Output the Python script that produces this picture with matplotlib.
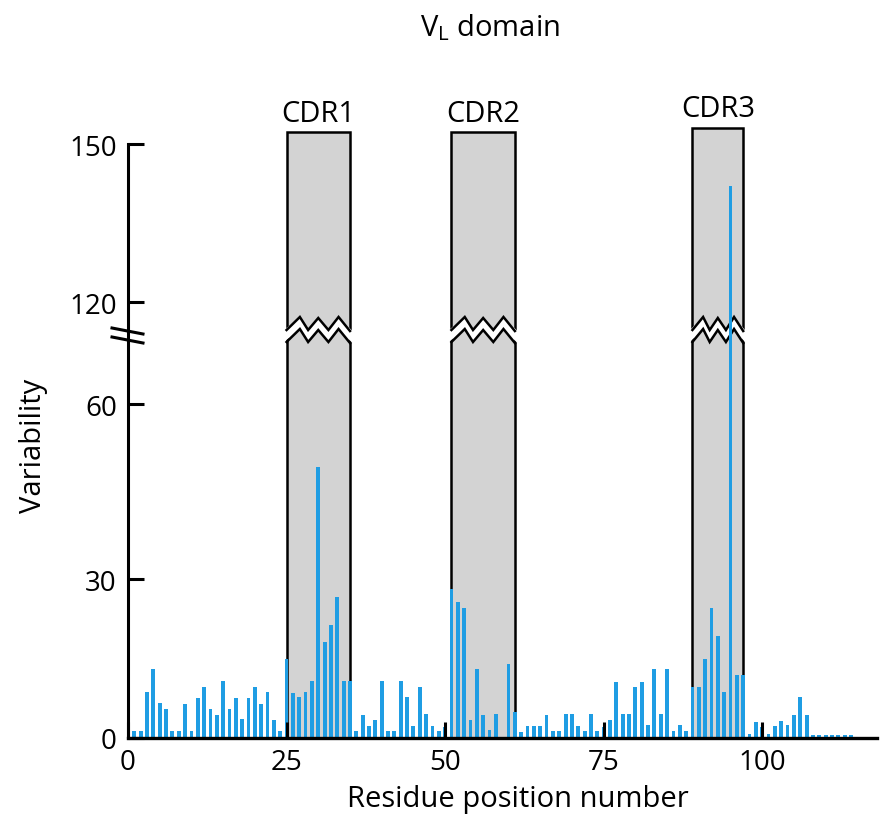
import numpy as np
import matplotlib
matplotlib.use("Agg")
import matplotlib.pyplot as plt
from matplotlib.transforms import blended_transform_factory

plt.rcParams['font.family'] = ['Open Sans', 'DejaVu Sans']
plt.rcParams['mathtext.fontset'] = 'custom'
plt.rcParams['mathtext.rm'] = 'Open Sans'

# variability per residue position (1..114)
positions = list(range(1, 115))
variability = [
    1.3, 1.3, 8.7, 13.0, 6.6, 5.5, 1.3, 1.3, 6.4, 1.3,
    7.5, 9.7, 5.5, 4.4, 10.8, 5.5, 7.6, 3.5, 7.6, 9.7,
    6.4, 8.6, 3.4, 1.4, 14.9, 8.5, 7.7, 8.6, 10.7, 49.2,
    18.2, 21.4, 26.6, 10.7, 10.7, 1.3, 4.3, 2.2, 3.4, 10.7,
    1.3, 1.3, 10.7, 7.7, 2.2, 9.7, 4.5, 2.2, 1.3, 2.0,
    28.2, 25.6, 24.5, 3.4, 13.0, 4.4, 1.5, 4.6, 0.0, 14.0,
    5.0, 1.2, 2.2, 2.2, 2.2, 4.3, 1.3, 1.3, 4.6, 4.6,
    2.2, 1.3, 4.5, 1.3, 2.0, 3.4, 10.6, 4.5, 4.5, 9.7,
    10.6, 2.5, 13.0, 4.5, 13.0, 1.3, 2.5, 1.3, 9.7, 9.7,
    15.0, 24.5, 19.2, 8.7, 142.0, 11.8, 11.8, 0.8, 3.1, 2.0,
    0.8, 2.2, 3.2, 2.5, 4.3, 7.7, 4.3, 0.5, 0.5, 0.5,
    0.5, 0.5, 0.5, 0.5,
]

cdr_names = ["CDR1", "CDR2", "CDR3"]
cdr_start = [25, 51, 89]
cdr_end = [35, 61, 97]
cdr_top = [152.3, 152.3, 153.0]
cdr_label_y = [154.4, 154.4, 155.3]

y_ticks = [0, 30, 60, 120, 150]
x_ticks = [0, 25, 50, 75, 100]

# broken y axis: piecewise linear mapping, 72..114 squeezed to nothing
knots_d = [-10, 0, 30, 60, 72, 114, 120, 150, 200]
knots_t = [-53, 0, 159, 334, 404, 406, 436, 594, 857.5]


def fwd(y):
    return np.interp(y, knots_d, knots_t)


def inv(t):
    return np.interp(t, knots_t, knots_d)


fig = plt.figure(figsize=(8.83, 8.28), dpi=100)
ax = fig.add_axes([128 / 883, 89 / 828, 749 / 883, 636 / 828])
ax.set_yscale('function', functions=(fwd, inv))
ax.set_xlim(0, 118.1)
ax.set_ylim(0, 158)
ax.set_axisbelow(False)

# CDR boxes
for x0, x1, top in zip(cdr_start, cdr_end, cdr_top):
    ax.bar((x0 + x1) / 2, top, width=x1 - x0, color='#d3d3d3',
           edgecolor='black', linewidth=1.8, zorder=1)

# zigzag break through the boxes (y in axes fraction)
def yfrac(py):
    return (739 - py) / 636

trans = blended_transform_factory(ax.transData, ax.transAxes)
fr = np.array([0, 0.21, 0.34, 0.5, 0.66, 0.82, 1.0])
up_px = np.array([331, 318, 331, 319, 331, 318, 332])
lo_px = up_px + 12
for x0, x1 in zip(cdr_start, cdr_end):
    xs = x0 + fr * (x1 - x0)
    xs_ext = xs.copy()
    xs_ext[0] -= 0.4
    xs_ext[-1] += 0.4
    poly_x = np.concatenate([xs_ext, xs_ext[::-1]])
    poly_y = np.concatenate([yfrac(up_px), yfrac(lo_px)[::-1]])
    ax.fill(poly_x, poly_y, color='white', transform=trans, zorder=1.5,
            linewidth=0)
    ax.plot(xs, yfrac(up_px), color='black', lw=1.8, transform=trans,
            zorder=1.6, solid_joinstyle='miter')
    ax.plot(xs, yfrac(lo_px), color='black', lw=1.8, transform=trans,
            zorder=1.6, solid_joinstyle='miter')

# variability bars
ax.bar(positions, variability, width=0.6, color='#1f9de3', zorder=2.2)

for name, x0, x1, ly in zip(cdr_names, cdr_start, cdr_end, cdr_label_y):
    ax.text((x0 + x1) / 2, ly, name, ha='center', va='baseline',
            fontsize=21, clip_on=False)

# axes styling
for s in ['top', 'right']:
    ax.spines[s].set_visible(False)
ax.spines['left'].set_bounds(0, 150)
ax.spines['left'].set_linewidth(2.2)
ax.spines['bottom'].set_linewidth(2.4)
ax.set_yticks(y_ticks)
ax.set_xticks(x_ticks)
ax.minorticks_off()
ax.tick_params(direction='in', length=11.5, width=2.2, labelsize=20)
ax.tick_params(axis='x', pad=7)
ax.tick_params(axis='y', pad=8)

# break marks on the y axis
for off in [0, 9]:
    ax.plot([(112 - 128) / 749, (143 - 128) / 749],
            [yfrac(329 + off), yfrac(335 + off)], color='black', lw=2.2,
            transform=ax.transAxes, clip_on=False)

ax.set_xlabel('Residue position number', fontsize=21)
ax.xaxis.label.set_va('center')
ax.xaxis.set_label_coords((518 - 128) / 749, yfrac(800))
ax.set_ylabel('Variability', fontsize=21)
ax.yaxis.label.set_va('center')
ax.yaxis.set_label_coords((33 - 128) / 749, yfrac(446))

fig.text(490 / 883, 1 - 28 / 828, 'V$_\\mathrm{L}$ domain', ha='center',
         va='center', fontsize=21)

fig.savefig('out.png', dpi=100)
